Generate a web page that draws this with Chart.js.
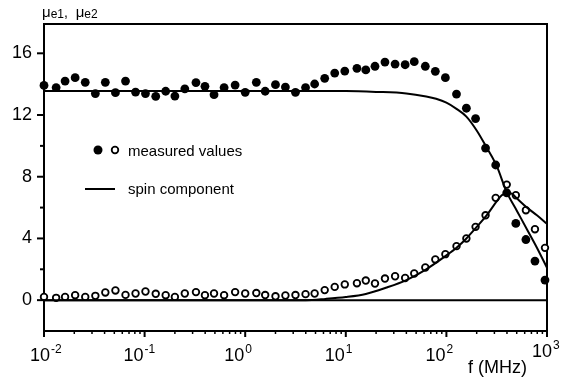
<!DOCTYPE html>
<html>
<head>
<meta charset="utf-8">
<script src="https://cdn.jsdelivr.net/npm/chart.js@4.4.0/dist/chart.umd.min.js"></script>
<style>
  html, body { margin: 0; padding: 0; background: #fff; }
</style>
</head>
<body>
<canvas id="myChart" width="564" height="381"></canvas>
<script>
"use strict";

// measured frequencies (MHz), same for both series
const freq = [0.010, 0.0132, 0.0162, 0.0204, 0.0257, 0.0324, 0.0407, 0.0513, 0.0646, 0.0813,
  0.102, 0.129, 0.162, 0.200, 0.251, 0.324, 0.398, 0.490, 0.617, 0.794,
  1.00, 1.29, 1.58, 2.00, 2.51, 3.16, 3.98, 4.90, 6.17, 7.76,
  9.77, 12.9, 15.8, 19.5, 24.5, 30.9, 38.9, 47.9, 61.7, 77.6,
  97.7, 126, 158, 195, 245, 309, 398, 490, 617, 759, 955];

// mu_e1 measured (filled circles)
const mu1 = [13.92, 13.78, 14.20, 14.42, 14.12, 13.39, 14.12, 13.45, 14.20, 13.49,
  13.39, 13.21, 13.54, 13.23, 13.70, 14.10, 13.86, 13.32, 13.78, 13.94,
  13.47, 14.12, 13.54, 13.97, 13.81, 13.47, 13.78, 14.01, 14.38, 14.72,
  14.85, 15.03, 14.92, 15.16, 15.43, 15.30, 15.26, 15.46, 15.16, 14.83,
  14.42, 13.36, 12.44, 11.77, 9.86, 8.76, 6.95, 4.97, 3.93, 2.53, 1.30];

// mu_e2 measured (open circles)
const mu2 = [0.21, 0.15, 0.21, 0.32, 0.21, 0.28, 0.50, 0.63, 0.34, 0.43,
  0.56, 0.41, 0.32, 0.21, 0.43, 0.52, 0.32, 0.43, 0.32, 0.52,
  0.43, 0.46, 0.33, 0.25, 0.30, 0.33, 0.39, 0.43, 0.65, 0.86,
  1.02, 1.10, 1.27, 1.08, 1.40, 1.55, 1.44, 1.73, 2.12, 2.64,
  2.98, 3.50, 4.00, 4.75, 5.50, 6.63, 7.49, 6.80, 5.83, 4.60, 3.39];

// spin component curves
const spinFreq1 = [0.01, 1, 10, 20, 40, 63, 79, 100, 126, 158, 200, 251, 316, 398, 501, 631, 794, 1000];
const spin1 = [13.55, 13.55, 13.55, 13.5, 13.4, 13.2, 13.05, 12.8, 12.4, 11.9, 11.0, 9.9, 8.7, 7.0, 5.8, 4.6, 3.4, 2.1];

const spinFreq2 = [0.01, 4, 6.3, 10, 15.8, 25, 40, 63, 100, 126, 158, 200, 251, 316, 355, 398, 447, 501, 631, 794, 1000];
const spin2 = [0, 0, 0.08, 0.2, 0.4, 0.8, 1.3, 2.0, 2.9, 3.4, 4.0, 4.75, 5.5, 6.4, 6.8, 6.95, 6.9, 6.6, 6.0, 5.5, 4.95];

const yMajor = [0, 4, 8, 12, 16];
const yMinor = [2, 6, 10, 14];
const xExp = ['-2', '-1', '0', '1', '2', '3'];

const FONT = "'Liberation Sans', Arial, sans-serif";

const toXY = (xs, ys) => xs.map((x, i) => ({ x: x, y: ys[i] }));

const decor = {
  id: 'decor',
  beforeDatasetsDraw(chart) {
    const { ctx, chartArea: a, scales: { y } } = chart;
    ctx.save();
    ctx.strokeStyle = '#000';
    ctx.lineWidth = 2;
    ctx.strokeRect(a.left, a.top, a.right - a.left, a.bottom - a.top);
    const y0 = y.getPixelForValue(0);
    ctx.beginPath();
    ctx.moveTo(a.left, y0);
    ctx.lineTo(a.right, y0);
    ctx.stroke();
    ctx.restore();
  },
  afterDraw(chart) {
    const { ctx, chartArea: a, scales: { x, y } } = chart;
    ctx.save();
    ctx.strokeStyle = '#000';
    ctx.fillStyle = '#000';

    // x ticks (log)
    for (let d = -2; d <= 3; d++) {
      for (let m = 1; m < 10; m++) {
        const v = Math.pow(10, d) * m;
        if (v > 1000) break;
        const px = x.getPixelForValue(v);
        ctx.lineWidth = m === 1 ? 2 : 1.5;
        ctx.beginPath();
        ctx.moveTo(px, a.bottom);
        ctx.lineTo(px, a.bottom + (m === 1 ? 6 : 3));
        ctx.stroke();
      }
    }
    // y ticks
    ctx.lineWidth = 2;
    yMajor.concat(yMinor).forEach(v => {
      const py = y.getPixelForValue(v);
      ctx.beginPath();
      ctx.moveTo(a.left, py);
      ctx.lineTo(a.left - (yMajor.includes(v) ? 7 : 4), py);
      ctx.stroke();
    });

    // x tick labels 10^n
    xExp.forEach((e, i) => {
      const px = x.getPixelForValue(Math.pow(10, i - 2));
      const off = i === 0 ? 6 : (i === xExp.length - 1 ? 5 : -1);
      const lift = i === xExp.length - 1 ? 4 : 0;
      ctx.font = '18px ' + FONT;
      ctx.textAlign = 'right';
      ctx.textBaseline = 'alphabetic';
      ctx.fillText('10', px + off, 361 - lift);
      ctx.font = '12px ' + FONT;
      ctx.textAlign = 'left';
      ctx.fillText(e, px + off + 1, 353 - lift);
    });

    // axis titles
    ctx.textAlign = 'left';
    ctx.font = '18px ' + FONT;
    ctx.fillText('f (MHz)', 468, 373);

    let tx = 42;
    const part = (txt, size, base) => {
      ctx.font = size + 'px ' + FONT;
      ctx.fillText(txt, tx, base);
      tx += ctx.measureText(txt).width;
    };
    part('\u03bc', 15, 17);
    part('e1', 12, 18);
    part(',  ', 14, 17);
    part('\u03bc', 15, 17);
    part('e2', 12, 18);

    // legend
    ctx.beginPath();
    ctx.arc(98, 150, 4.5, 0, Math.PI * 2);
    ctx.fill();
    ctx.lineWidth = 1.8;
    ctx.beginPath();
    ctx.arc(115, 150, 3.3, 0, Math.PI * 2);
    ctx.stroke();
    ctx.lineWidth = 2;
    ctx.beginPath();
    ctx.moveTo(85, 189);
    ctx.lineTo(115, 189);
    ctx.stroke();
    ctx.font = '15px ' + FONT;
    ctx.fillText('measured values', 128, 156);
    ctx.fillText('spin component', 128, 194);
    ctx.restore();
  }
};

const config = {
  type: 'scatter',
  data: {
    datasets: [
      {
        label: 'spin e1',
        data: toXY(spinFreq1, spin1),
        showLine: true,
        borderColor: '#000',
        borderWidth: 2,
        pointRadius: 0,
        cubicInterpolationMode: 'monotone',
        clip: false
      },
      {
        label: 'spin e2',
        data: toXY(spinFreq2, spin2),
        showLine: true,
        borderColor: '#000',
        borderWidth: 2,
        pointRadius: 0,
        cubicInterpolationMode: 'monotone',
        clip: false
      },
      {
        label: 'mu e2',
        data: toXY(freq, mu2),
        pointRadius: 3.3,
        pointBorderWidth: 1.8,
        pointBorderColor: '#000',
        pointBackgroundColor: '#fff',
        clip: false
      },
      {
        label: 'mu e1',
        data: toXY(freq, mu1),
        pointRadius: 4.4,
        pointBorderWidth: 0,
        pointBackgroundColor: '#000',
        clip: false
      }
    ]
  },
  options: {
    responsive: false,
    animation: false,
    layout: { padding: { top: 24, right: 17, left: 0, bottom: 0 } },
    plugins: {
      legend: { display: false },
      tooltip: { enabled: false }
    },
    scales: {
      x: {
        type: 'logarithmic',
        min: 0.01,
        max: 1000,
        grid: { display: false, drawTicks: false },
        border: { display: false },
        ticks: { display: false },
        afterFit: s => { s.height = 50; }
      },
      y: {
        type: 'linear',
        min: -2,
        max: 17.9,
        grid: { display: false, drawTicks: false },
        border: { display: false },
        afterBuildTicks: s => { s.ticks = yMajor.map(v => ({ value: v })); },
        ticks: {
          padding: 12,
          color: '#000',
          font: { family: FONT, size: 18 }
        },
        afterFit: s => { s.width = 44; }
      }
    }
  },
  plugins: [decor]
};

const my_chart = new Chart(document.getElementById('myChart'), config);
</script>
</body>
</html>
